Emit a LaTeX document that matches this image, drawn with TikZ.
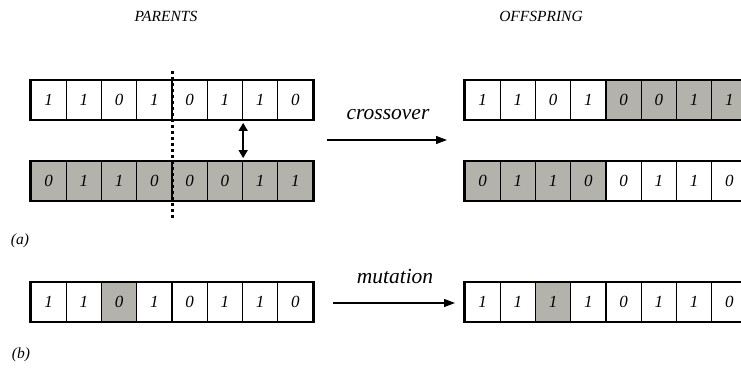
\documentclass[tikz,border=0pt]{standalone}
\usepackage{fontspec}
\setmainfont{Liberation Serif}
\usetikzlibrary{calc,arrows.meta}
\definecolor{cellgray}{RGB}{179,179,171}
\tikzset{
  bit/.style={draw, line width=1.3pt, minimum width=35.25pt, minimum height=38.5pt,
    inner sep=0pt, font=\fontsize{17}{17}\selectfont\itshape},
  s0/.style={fill=white},
  s1/.style={fill=cellgray},
  frame/.style={draw, line width=2pt},
  cut/.style={line width=2.8pt, dash pattern=on 2.8pt off 3.2pt},
  swap/.style={line width=1.4pt, {Triangle[length=8pt,width=9pt]}-{Triangle[length=8pt,width=9pt]},
    shorten <=3pt, shorten >=3pt},
  op/.style={line width=1.2pt, -{Triangle[length=11pt,width=8pt]}},
  oplabel/.style={font=\fontsize{21.5}{24}\selectfont\itshape},
  header/.style={font=\fontsize{15.5}{18}\selectfont\itshape},
  tag/.style={font=\fontsize{15.5}{18}\selectfont\itshape}
}
% a chromosome of 8 bits: name, left x, centre y, list of bit/shade
\newcommand\bitrow[4]{%
  \foreach \v/\s [count=\i] in {#4} {
    \node[bit, s\s] (#1\i) at ({#2+(\i-0.5)*35.25},#3) {\v};
  }
  \draw[frame] (#11.north west) rectangle (#18.south east);
}
\begin{document}
\begin{tikzpicture}[x=1pt, y=-1pt]
  \useasboundingbox (0,0) rectangle (741,374);

  \node[header] (parents) at (166,16) {PARENTS};
  \node[header] (offspring) at (541,16) {OFFSPRING};

  % (a) crossover
  \bitrow{pa}{31}{100}{1/0,1/0,0/0,1/0,0/0,1/0,1/0,0/0}
  \bitrow{pb}{31}{181}{0/1,1/1,1/1,0/1,0/1,0/1,1/1,1/1}
  \bitrow{oa}{465}{100}{1/0,1/0,0/0,1/0,0/1,0/1,1/1,1/1}
  \bitrow{ob}{465}{181}{0/1,1/1,1/1,0/1,0/0,1/0,1/0,0/0}

  \draw[cut] ($(pa4.north east)+(0,-9)$) -- ($(pb4.south east)+(0,18)$);
  \draw[swap] (pa6.south east) -- (pb6.north east);

  \coordinate (cxs) at (327,140);
  \coordinate (cxe) at (447,140);
  \draw[op] (cxs) -- (cxe);
  \node[oplabel] (cxl) at (388,115) {crossover};

  \node[tag] (taga) at (20,241) {(a)};

  % (b) mutation
  \bitrow{ma}{31}{302}{1/0,1/0,0/1,1/0,0/0,1/0,1/0,0/0}
  \bitrow{mb}{465}{302}{1/0,1/0,1/1,1/0,0/0,1/0,1/0,0/0}

  \coordinate (mus) at (333,303);
  \coordinate (mue) at (455,303);
  \draw[op] (mus) -- (mue);
  \node[oplabel] (mul) at (395,277) {mutation};

  \node[tag] (tagb) at (21,355) {(b)};
\end{tikzpicture}
\end{document}
